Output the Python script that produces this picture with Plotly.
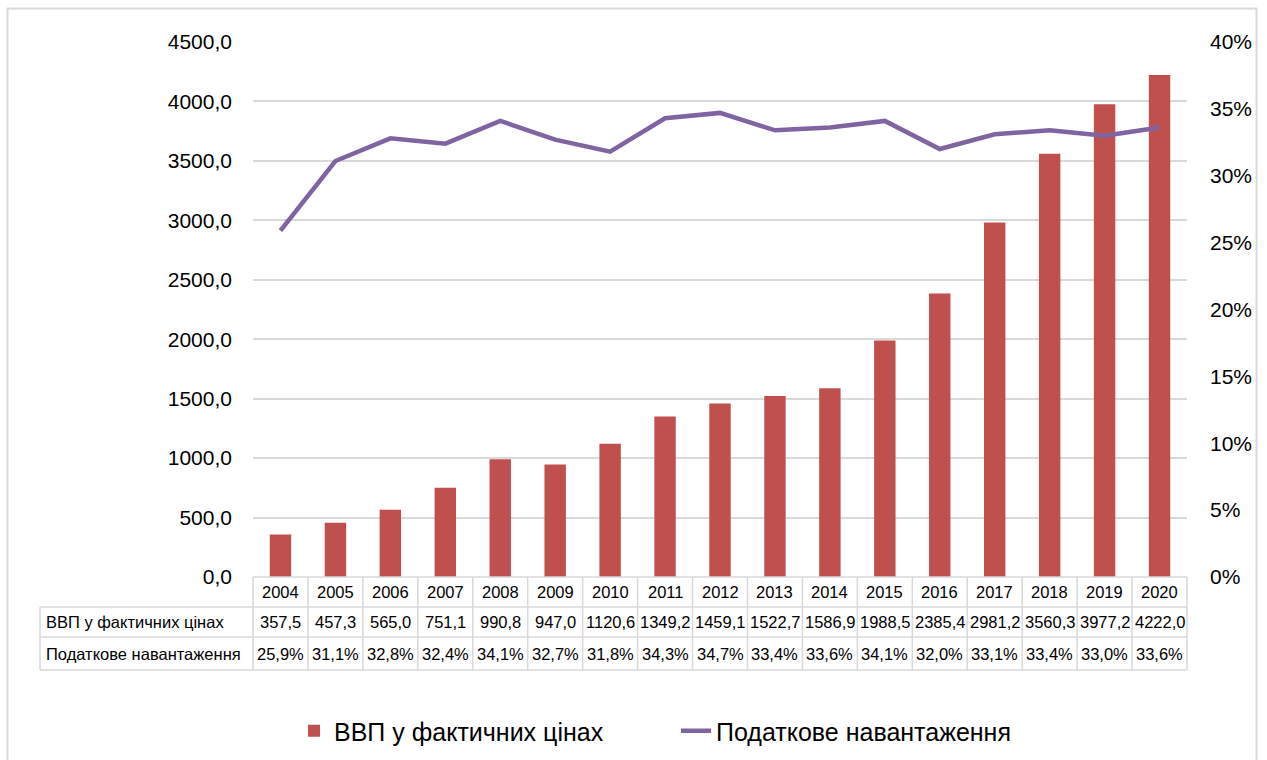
import plotly.graph_objects as go

years = [str(y) for y in range(2004, 2021)]
gdp = [357.5, 457.3, 565.0, 751.1, 990.8, 947.0, 1120.6, 1349.2, 1459.1, 1522.7,
       1586.9, 1988.5, 2385.4, 2981.2, 3560.3, 3977.2, 4222.0]
tax = [25.9, 31.1, 32.8, 32.4, 34.1, 32.7, 31.8, 34.3, 34.7, 33.4, 33.6, 34.1,
       32.0, 33.1, 33.4, 33.0, 33.6]
gdp_name = "ВВП у фактичних цінах"
tax_name = "Податкове навантаження"
left_ticks = [0, 500, 1000, 1500, 2000, 2500, 3000, 3500, 4000, 4500]
right_ticks = [0, 5, 10, 15, 20, 25, 30, 35, 40]

W, H = 1267, 760
L, R, T, B = 253, 1187, 42, 577
pw, ph = R - L, B - T

def px(x):
    return (x - L) / pw

def py(y):
    return (B - y) / ph

TICK_FONT = dict(family="Liberation Sans, Arial, sans-serif", size=21, color="#000000")
TABLE_FONT = dict(family="Liberation Sans, Arial, sans-serif", size=16.5, color="#000000")
GRID = "#D9D9D9"

fig = go.Figure()
fig.add_trace(go.Bar(x=list(range(len(years))), y=gdp, name=gdp_name, marker_color="#C0504D",
                     marker_line_width=0, yaxis="y"))
fig.add_trace(go.Scatter(x=list(range(len(years))), y=tax, name=tax_name, mode="lines",
                         line=dict(color="#8064A2", width=4.5), yaxis="y2"))

shapes = []
rows_y = [577, 607, 637, 670]
for i, yy in enumerate(rows_y):
    x0 = px(L) if i == 0 else px(40)
    shapes.append(dict(type="line", xref="paper", yref="paper", x0=x0, x1=1,
                       y0=py(yy), y1=py(yy), line=dict(color=GRID, width=1.5)))
n = len(years)
for i in range(n + 1):
    xx = i / n
    shapes.append(dict(type="line", xref="paper", yref="paper", x0=xx, x1=xx,
                       y0=py(577), y1=py(670), line=dict(color=GRID, width=1.5)))
shapes.append(dict(type="line", xref="paper", yref="paper", x0=px(40), x1=px(40),
                   y0=py(607), y1=py(670), line=dict(color=GRID, width=1.5)))
shapes.append(dict(type="rect", xref="paper", yref="paper", x0=px(7.5), x1=px(1256.5),
                   y0=py(775), y1=py(8.5), line=dict(color=GRID, width=2), fillcolor="rgba(0,0,0,0)"))

annotations = []
def fmt(v):
    return f"{v:.1f}".replace(".", ",")

for i, yr in enumerate(years):
    annotations.append(dict(x=i, xref="x", y=py(592), yref="paper", text=yr, showarrow=False,
                            font=TABLE_FONT, xanchor="center", yanchor="middle"))
    annotations.append(dict(x=i, xref="x", y=py(622), yref="paper", text=fmt(gdp[i]), showarrow=False,
                            font=TABLE_FONT, xanchor="center", yanchor="middle"))
    annotations.append(dict(x=i, xref="x", y=py(653.5), yref="paper", text=fmt(tax[i]) + "%", showarrow=False,
                            font=TABLE_FONT, xanchor="center", yanchor="middle"))
annotations.append(dict(x=px(44), xref="paper", y=py(622), yref="paper", text=gdp_name, showarrow=False,
                        font=TABLE_FONT, xanchor="left", yanchor="middle"))
annotations.append(dict(x=px(44), xref="paper", y=py(653.5), yref="paper", text=tax_name, showarrow=False,
                        font=TABLE_FONT, xanchor="left", yanchor="middle"))

fig.update_layout(
    width=W, height=H,
    margin=dict(l=L, r=W - R, t=T, b=H - B, pad=0, autoexpand=False),
    paper_bgcolor="white", plot_bgcolor="white",
    bargap=0.61,
    showlegend=True,
    legend=dict(orientation="h", x=px(294), xanchor="left", y=py(731), yanchor="middle",
                font=dict(family="Liberation Sans, Arial, sans-serif", size=25, color="#000000"),
                itemwidth=30, entrywidth=337, entrywidthmode="pixels",
                traceorder="normal", bgcolor="rgba(0,0,0,0)"),
    xaxis=dict(range=[-0.5, n - 0.5], showticklabels=False, showgrid=False,
               zeroline=False, showline=False, ticks=""),
    yaxis=dict(range=[0, 4500], tickvals=left_ticks,
               ticktext=[fmt(v) for v in left_ticks], showgrid=True, gridcolor=GRID, gridwidth=1.5,
               zeroline=False, showline=False, tickfont=TICK_FONT, ticks="", ticklabelstandoff=20),
    yaxis2=dict(range=[0, 40], overlaying="y", side="right", tickvals=right_ticks,
                ticktext=[f"{v}%" for v in right_ticks], showgrid=False, zeroline=False,
                showline=False, tickfont=TICK_FONT, ticks="", ticklabelstandoff=22),
    shapes=shapes,
    annotations=annotations,
)

fig.write_html("out.html", post_script="document.body.style.margin='0';",
               config={"displayModeBar": False})
